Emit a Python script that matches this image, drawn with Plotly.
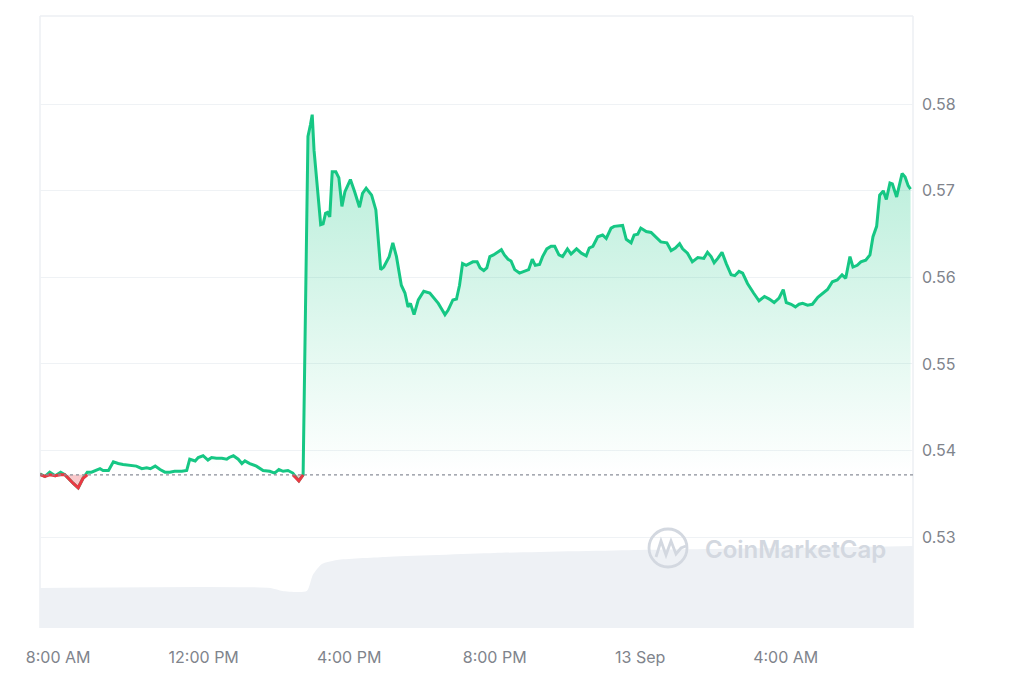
import numpy as np
import plotly.graph_objects as go

# ---------------- data ----------------
day1_times = ["07:30","07:38","07:46","07:55","08:04","08:11","08:25","08:33","08:41","08:48","08:55","09:02",
              "09:09","09:14","09:23","09:31","09:39","09:47","09:58","10:09","10:18","10:26","10:32","10:40",
              "10:48","10:56","11:04","11:12","11:24","11:32","11:37","11:46","11:51","11:59","12:07","12:13",
              "12:21","12:30","12:38","12:42","12:49","12:57","13:03","13:08","13:16","13:27","13:38","13:49",
              "13:57","14:04","14:11","14:19","14:27","14:37","14:44","14:52","14:56","14:59","15:02","15:06",
              "15:13","15:17","15:21","15:24","15:28","15:32","15:38","15:43","15:48","15:53","16:02","16:09",
              "16:17","16:22","16:28","16:37","16:44","16:52","16:57","17:06","17:12","17:18","17:26","17:32",
              "17:37","17:41","17:47","17:54","18:03","18:13","18:18","18:27","18:32","18:38","18:43","18:51",
              "18:57","19:02","19:07","19:13","19:24","19:31","19:36","19:42","19:47","19:52","19:58","20:04",
              "20:11","20:16","20:22","20:27","20:33","20:41","20:49","20:56","21:02","21:07","21:14","21:19",
              "21:26","21:33","21:39","21:46","21:52","22:00","22:06","22:15","22:23","22:31","22:36","22:42",
              "22:50","22:58","23:04","23:12","23:17","23:31","23:37","23:45","23:50","23:56"]
day1_price = [0.5373,0.5370,0.5375,0.5371,0.5375,0.5372,0.5362,0.5357,0.5368,0.5375,0.5375,0.5377,
              0.5379,0.5377,0.5377,0.5387,0.5385,0.5384,0.5383,0.5382,0.5379,0.5380,0.5379,0.5382,
              0.5378,0.5375,0.5375,0.5376,0.5376,0.5377,0.5390,0.5388,0.5392,0.5394,0.5389,0.5392,
              0.5391,0.5391,0.5390,0.5392,0.5394,0.5390,0.5385,0.5388,0.5385,0.5382,0.5377,0.5376,
              0.5374,0.5378,0.5376,0.5377,0.5374,0.5365,0.5372,0.5763,0.5776,0.5788,0.5747,0.5713,
              0.5661,0.5662,0.5674,0.5675,0.5670,0.5722,0.5722,0.5715,0.5682,0.5699,0.5713,0.5699,
              0.5681,0.5697,0.5703,0.5695,0.5678,0.5609,0.5612,0.5624,0.5640,0.5624,0.5591,0.5582,
              0.5566,0.5570,0.5557,0.5574,0.5584,0.5582,0.5578,0.5570,0.5564,0.5557,0.5562,0.5574,
              0.5575,0.5591,0.5616,0.5614,0.5618,0.5618,0.5611,0.5608,0.5611,0.5624,0.5626,0.5629,
              0.5632,0.5626,0.5621,0.5619,0.5609,0.5605,0.5607,0.5609,0.5621,0.5614,0.5615,0.5624,
              0.5633,0.5636,0.5636,0.5626,0.5624,0.5633,0.5627,0.5633,0.5628,0.5625,0.5634,0.5636,
              0.5647,0.5649,0.5645,0.5657,0.5659,0.5660,0.5644,0.5640,0.5649,0.5650]
day2_times = ["00:01","00:10","00:18","00:26","00:34","00:44","00:51","00:58","01:05","01:10","01:18","01:26",
              "01:35","01:45","01:51","01:57","02:02","02:08","02:15","02:22","02:30","02:36","02:43","02:49",
              "02:57","03:07","03:16","03:25","03:33","03:41","03:49","03:56","04:01","04:09","04:16","04:22",
              "04:28","04:36","04:44","04:53","05:01","05:09","05:17","05:25","05:33","05:39","05:46","05:51",
              "05:58","06:04","06:12","06:19","06:24","06:30","06:35","06:41","06:46","06:52","06:56","07:03",
              "07:12","07:17","07:22","07:26"]
day2_price = [0.5657,0.5653,0.5652,0.5647,0.5641,0.5640,0.5631,0.5634,0.5639,0.5633,0.5628,0.5618,
              0.5623,0.5622,0.5629,0.5624,0.5617,0.5622,0.5629,0.5616,0.5603,0.5602,0.5607,0.5605,
              0.5593,0.5582,0.5573,0.5578,0.5575,0.5571,0.5576,0.5586,0.5571,0.5569,0.5566,0.5569,
              0.5570,0.5568,0.5569,0.5577,0.5582,0.5586,0.5595,0.5597,0.5603,0.5599,0.5624,0.5612,
              0.5614,0.5618,0.5620,0.5626,0.5647,0.5659,0.5695,0.5700,0.5690,0.5709,0.5708,0.5693,
              0.5720,0.5716,0.5706,0.5702]
open_price = 0.5372

volume_time = ["2024-09-12 07:30","2024-09-12 13:50","2024-09-12 14:10","2024-09-12 14:50",
               "2024-09-12 15:00","2024-09-12 15:15","2024-09-12 15:40","2024-09-12 17:00",
               "2024-09-12 20:00","2024-09-13 00:00","2024-09-13 04:00","2024-09-13 07:30"]
volume_m = [20.0, 20.0, 18.5, 18.5, 26.5, 32.0, 34.0, 35.5, 37.5, 39.0, 40.0, 41.0]

tick_times = ["2024-09-12 08:00","2024-09-12 12:00","2024-09-12 16:00","2024-09-12 20:00",
              "2024-09-13 00:00","2024-09-13 04:00"]
tick_labels = ["8:00 AM","12:00 PM","4:00 PM","8:00 PM","13 Sep","4:00 AM"]
price_ticks = [0.53, 0.54, 0.55, 0.56, 0.57, 0.58]
price_tick_labels = ["0.53", "0.54", "0.55", "0.56", "0.57", "0.58"]

# ---------------- build ----------------
times = ["2024-09-12 " + t for t in day1_times] + ["2024-09-13 " + t for t in day2_times]
price = np.array(day1_price + day2_price)
n = len(price)
base = np.full(n, open_price)
above = np.maximum(price, open_price)
below = np.minimum(price, open_price)
is_below = price < open_price
near_below = is_below.copy()
near_below[1:] |= is_below[:-1]
near_below[:-1] |= is_below[1:]
red_line = np.where(near_below, below, np.nan)

GREEN = "#16c784"
RED = "#ea3943"
GRID = "#eff2f5"
TXT = "#80848c"

fig = go.Figure()

# volume (background)
fig.add_trace(go.Scatter(x=volume_time, y=volume_m, yaxis="y2", mode="lines",
                         line=dict(width=0, shape="spline", smoothing=0.6),
                         fill="tozeroy", fillcolor="#eef1f5", hoverinfo="skip"))

# green area
fig.add_trace(go.Scatter(x=times, y=base, mode="lines", line=dict(width=0), hoverinfo="skip"))
fig.add_trace(go.Scatter(x=times, y=above, mode="lines", line=dict(width=0), fill="tonexty",
                         fillgradient=dict(type="vertical", start=open_price, stop=0.579,
                                           colorscale=[[0, "rgba(22,199,132,0.0)"],
                                                       [1, "rgba(22,199,132,0.34)"]]),
                         hoverinfo="skip"))
# red area
fig.add_trace(go.Scatter(x=times, y=base, mode="lines", line=dict(width=0), hoverinfo="skip"))
fig.add_trace(go.Scatter(x=times, y=below, mode="lines", line=dict(width=0), fill="tonexty",
                         fillcolor="rgba(234,57,67,0.28)", hoverinfo="skip"))

# price line
fig.add_trace(go.Scatter(x=times, y=price, mode="lines", line=dict(color=GREEN, width=3)))
fig.add_trace(go.Scatter(x=times, y=red_line, mode="lines", line=dict(color=RED, width=3),
                         connectgaps=False))

# baseline dotted
fig.add_shape(type="line", xref="paper", x0=0, x1=1, yref="y", y0=open_price, y1=open_price,
              line=dict(color="#8a8f99", width=1.3, dash="dot"), layer="above")

# frame lines
for (x0, y0, x1, y1) in [(0, 1, 1, 1), (0, 0, 0, 1), (1, 0, 1, 1)]:
    fig.add_shape(type="line", xref="paper", yref="paper", x0=x0, y0=y0, x1=x1, y1=y1,
                  line=dict(color="#eceff3", width=1.5), layer="below")

# watermark
PL, PR, PT, PB = 40, 913, 16, 628
def px(xp, yp):
    return (xp - PL) / (PR - PL), (PB - yp) / (PB - PT)

cx0, cy0 = px(649, 529)
cx1, cy1 = px(687, 567)
fig.add_shape(type="circle", xref="paper", yref="paper", x0=cx0, y0=cy1, x1=cx1, y1=cy0,
              line=dict(color="#d3d8e0", width=2.8), layer="above")
wave = [(656, 557), (661, 541), (666, 555), (671, 541), (676, 554), (681, 548), (686, 546)]
path = "M " + " L ".join("%.5f,%.5f" % px(a, b) for a, b in wave)
fig.add_shape(type="path", xref="paper", yref="paper", path=path,
              line=dict(color="#d3d8e0", width=2.8), layer="above")
tx, ty = px(795, 549)
fig.add_annotation(xref="paper", yref="paper", x=tx, y=ty, text="CoinMarketCap", showarrow=False,
                   font=dict(family="Inter", size=24, color="#d3d8e0", weight=600),
                   xanchor="center", yanchor="middle")

fig.update_layout(
    width=1024, height=683,
    margin=dict(l=PL, r=1024 - PR, t=PT, b=683 - PB),
    paper_bgcolor="white", plot_bgcolor="white",
    showlegend=False,
    font=dict(family="Inter", color=TXT),
    xaxis=dict(type="date", range=["2024-09-12 07:30", "2024-09-13 07:30"],
               tickvals=tick_times, ticktext=tick_labels, showgrid=False, zeroline=False,
               ticks="", showline=False, tickfont=dict(size=16, color=TXT), ticklabelstandoff=18),
    yaxis=dict(side="right", range=[0.5195, 0.5902], tickvals=price_ticks, ticktext=price_tick_labels,
               showgrid=True, gridcolor=GRID, gridwidth=1.2, zeroline=False, ticks="",
               tickfont=dict(size=16, color=TXT), ticklabelstandoff=8),
    yaxis2=dict(overlaying="y", range=[0, 306], visible=False),
)

fig.write_html("out.html")
